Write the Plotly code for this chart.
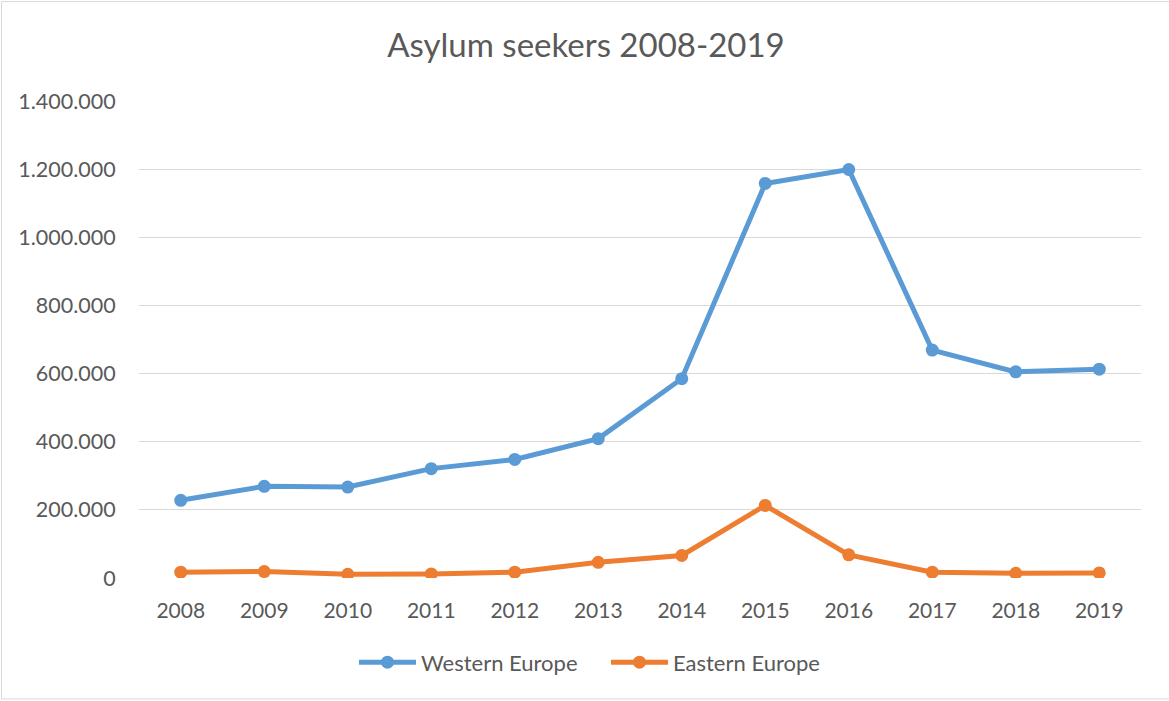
import plotly.graph_objects as go

years = ["2008", "2009", "2010", "2011", "2012", "2013", "2014", "2015", "2016", "2017", "2018", "2019"]
western = [228000, 269000, 267000, 321000, 348000, 409000, 585000, 1158000, 1199000, 669000, 605000, 613000]
eastern = [17000, 19000, 11000, 12000, 17000, 46000, 66000, 213000, 68000, 17000, 14000, 15000]
ytick_vals = [0, 200000, 400000, 600000, 800000, 1000000, 1200000, 1400000]
ytick_text = ["0", "200.000", "400.000", "600.000", "800.000", "1.000.000", "1.200.000", "1.400.000"]

FONT = "Lato, Carlito, Calibri, sans-serif"
TXT = "#595959"

fig = go.Figure()
fig.add_trace(go.Scatter(x=years, y=western, name="Western Europe", mode="lines+markers",
                         line=dict(color="#5B9BD5", width=5),
                         marker=dict(color="#5B9BD5", size=13)))
fig.add_trace(go.Scatter(x=years, y=eastern, name="Eastern Europe", mode="lines+markers",
                         line=dict(color="#ED7D31", width=5),
                         marker=dict(color="#ED7D31", size=13)))

L, R, T, B = 139, 28, 101, 122.5
W, H = 1169, 701
pw, ph = W - L - R, H - T - B

fig.update_layout(
    width=W, height=H,
    margin=dict(l=L, r=R, t=T, b=B),
    paper_bgcolor="white", plot_bgcolor="white",
    font=dict(family=FONT, color=TXT, size=21),
    title=dict(text="Asylum seekers 2008-2019", x=586 / W, xanchor="center",
               y=1 - 45 / H, yanchor="middle",
               font=dict(size=33, color=TXT, family=FONT)),
    xaxis=dict(type="category", range=[-0.5, 11.5], showgrid=False,
               showline=False, zeroline=False,
               ticks="outside", ticklen=14, tickcolor="rgba(0,0,0,0)",
               tickfont=dict(size=21, color=TXT)),
    yaxis=dict(range=[0, 1400000], tickvals=ytick_vals, ticktext=ytick_text,
               showgrid=True, gridcolor="#D9D9D9", gridwidth=1,
               zeroline=False, showline=False,
               ticks="outside", ticklen=18, tickcolor="rgba(0,0,0,0)",
               tickfont=dict(size=21.5, color=TXT)),
    legend=dict(orientation="h", x=(606 - L) / pw, xanchor="center",
                y=(578.5 - 663) / ph, yanchor="middle",
                font=dict(size=22, color=TXT), itemwidth=57,
                entrywidth=180, entrywidthmode="pixels",
                bgcolor="rgba(0,0,0,0)"),
    showlegend=True,
)

fig.add_shape(type="rect", xref="paper", yref="paper",
              x0=(1.5 - L) / pw, x1=(1172 - L) / pw,
              y0=(578.5 - 699.5) / ph, y1=(578.5 - 1.5) / ph,
              line=dict(color="#D9D9D9", width=1), fillcolor="rgba(0,0,0,0)",
              layer="below")

fig.write_html("out.html")
